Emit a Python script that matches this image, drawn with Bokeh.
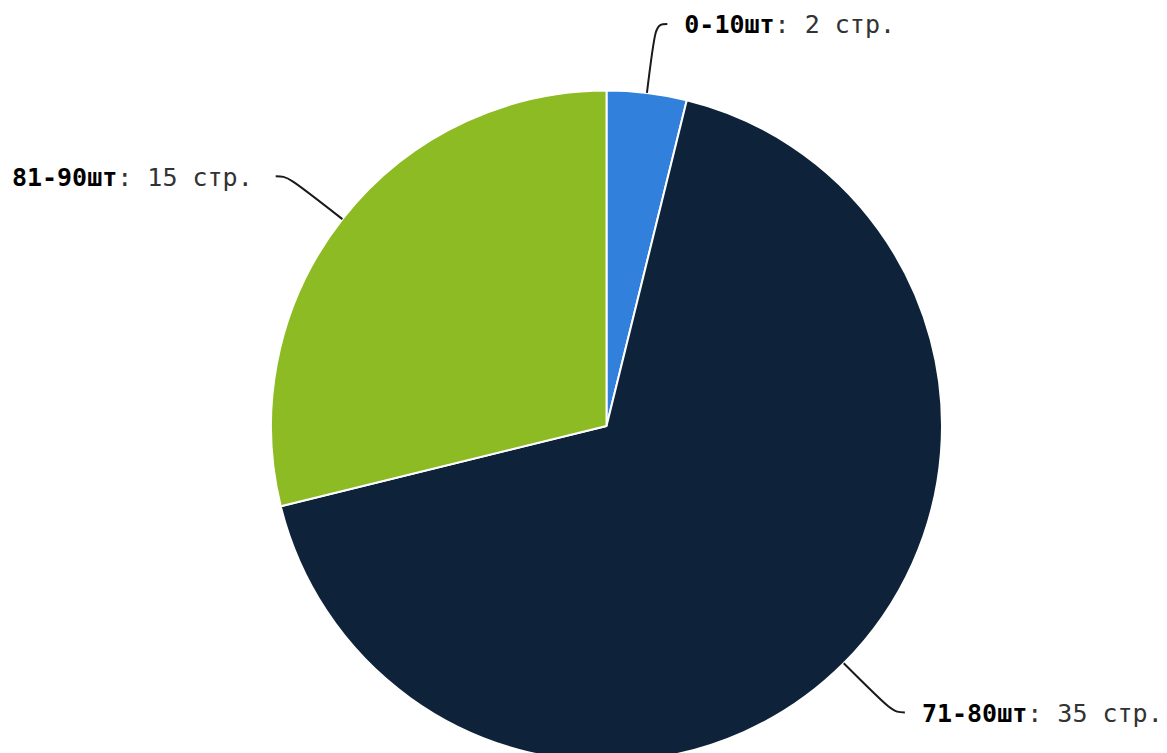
import math
from bokeh.plotting import figure
from bokeh.models import Range1d, ColumnDataSource
from bokeh.core.properties import value
from bokeh.embed import file_html
from bokeh.resources import INLINE

# ---- data ----
categories = ["0-10шт", "71-80шт", "81-90шт"]
counts = [2, 35, 15]
unit = "стр."
colors = ["#3080dc", "#0e2339", "#8cbb23"]

# ---- layout ----
W, H = 1167, 753
cx, cy, r = 606.0, 327.5, 335.5
R = 405.0          # bend radius of connectors
arm = 12.0         # horizontal arm length
FS = 25            # font size px
ADV = 0.602 * FS   # monospace advance
FONT = "DejaVu Sans Mono"

p = figure(width=W, height=H, x_range=Range1d(0, W), y_range=Range1d(0, H),
           output_backend="svg", toolbar_location=None, min_border=0)
p.axis.visible = False
p.grid.visible = False
p.outline_line_color = None
p.background_fill_color = "white"
p.border_fill_color = "white"

total = sum(counts)
starts, ends, mids = [], [], []
cum = 0
for c in counts:
    a0 = math.pi / 2 - 2 * math.pi * cum / total
    cum += c
    a1 = math.pi / 2 - 2 * math.pi * cum / total
    starts.append(a0)
    ends.append(a1)
    mids.append((a0 + a1) / 2)

src = ColumnDataSource(dict(x=[cx] * len(counts), y=[cy] * len(counts),
                            start=starts, end=ends, color=colors))
p.wedge(x="x", y="y", radius=r, start_angle="start", end_angle="end",
        direction="clock", fill_color="color", line_color="white",
        line_width=2, source=src)

# connectors and labels
bx0, by0, bx1, by1, bcx0, bcy0, bcx1, bcy1 = [], [], [], [], [], [], [], []
for cat, val, th in zip(categories, counts, mids):
    dx, dy = math.cos(th), math.sin(th)
    side = 1 if dx >= 0 else -1
    ex, ey = cx + r * dx, cy + r * dy
    kx, ky = cx + R * dx, cy + R * dy
    tx, ty = kx + side * arm, ky
    bx0.append(ex); by0.append(ey)
    bcx0.append(kx); bcy0.append(ky)
    bcx1.append(kx); bcy1.append(ky)
    bx1.append(tx); by1.append(ty)

    bold = cat
    reg = f": {val} {unit}"
    yt = ty - 1
    if side > 0:
        xs = tx + 17
        p.text(x=[xs], y=[yt], text=[bold], text_font=value(FONT),
               text_font_style="bold", text_font_size=f"{FS}px",
               text_align="left", text_baseline="middle", text_color="#000000")
        p.text(x=[xs + len(bold) * ADV], y=[yt], text=[reg], text_font=value(FONT),
               text_font_size=f"{FS}px", text_align="left",
               text_baseline="middle", text_color="#333333")
    else:
        xe = tx - 23
        p.text(x=[xe], y=[yt], text=[reg], text_font=value(FONT),
               text_font_size=f"{FS}px", text_align="right",
               text_baseline="middle", text_color="#333333")
        p.text(x=[xe - len(reg) * ADV], y=[yt], text=[bold], text_font=value(FONT),
               text_font_style="bold", text_font_size=f"{FS}px",
               text_align="right", text_baseline="middle", text_color="#000000")

p.bezier(x0=bx0, y0=by0, x1=bx1, y1=by1, cx0=bcx0, cy0=bcy0, cx1=bcx1, cy1=bcy1,
         line_color="#1a1a1a", line_width=2)

open("out.html", "w").write(file_html(p, INLINE))
